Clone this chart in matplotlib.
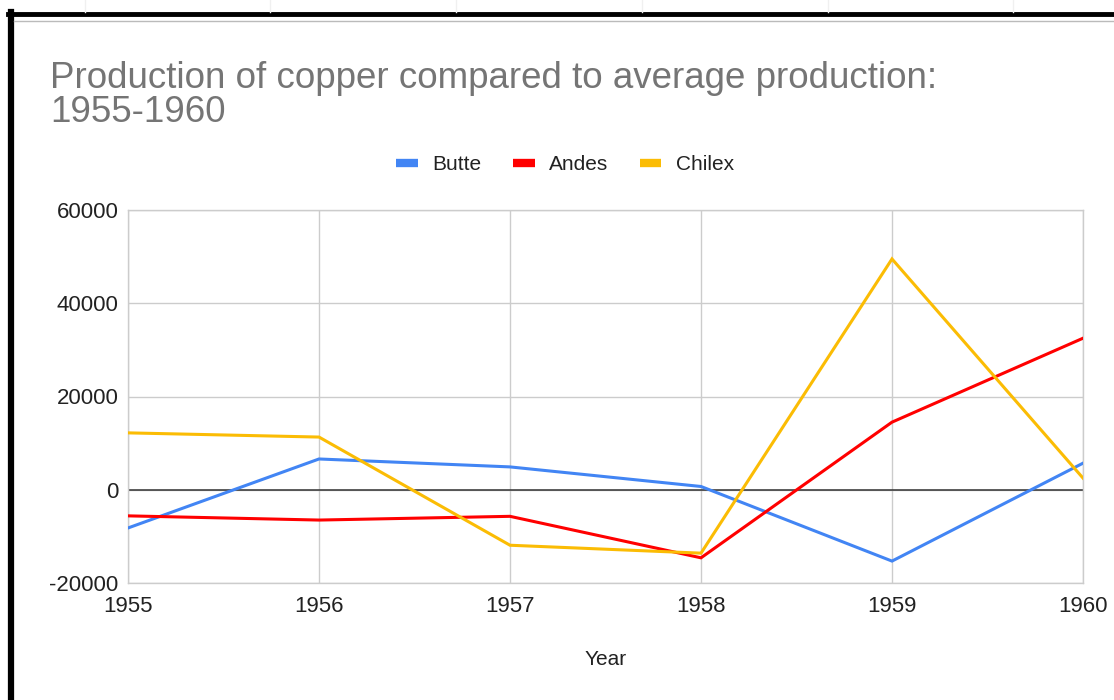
import matplotlib.pyplot as plt
from matplotlib.lines import Line2D

plt.rcParams['font.family'] = ['Liberation Sans', 'DejaVu Sans']

years = [1955, 1956, 1957, 1958, 1959, 1960]
butte = [-8200, 6600, 4900, 700, -15300, 5700]
andes = [-5600, -6500, -5700, -14600, 14500, 32500]
chilex = [12200, 11300, -11900, -13600, 49500, 2500]

series_names = ['Butte', 'Andes', 'Chilex']
series_colors = ['#4285f4', '#ff0000', '#fbbc04']
y_ticks = [-20000, 0, 20000, 40000, 60000]

fig = plt.figure(figsize=(11.14, 7), dpi=100)
ax = fig.add_axes([128 / 1114, 1 - 583 / 700, (1083 - 128) / 1114, (583 - 210) / 700])

for vals, name, col in zip([butte, andes, chilex], series_names, series_colors):
    ax.plot(years, vals, color=col, lw=2.2, label=name, solid_joinstyle='miter', zorder=3)

ax.axhline(0, color='#333333', lw=1.1, zorder=2)
ax.set_xlim(1955, 1960)
ax.set_ylim(-20000, 60000)
ax.set_xticks(years)
ax.set_xticklabels([str(y) for y in years])
ax.set_yticks(y_ticks)
ax.set_yticklabels([str(v) for v in y_ticks])
ax.grid(True, color='#cccccc', lw=1, zorder=1)
for s in ax.spines.values():
    s.set_color('#cccccc')
    s.set_linewidth(1)
ax.tick_params(length=0, labelsize=16, colors='#222222')
ax.tick_params(axis='x', pad=9)
ax.tick_params(axis='y', pad=7)
ax.set_xlabel('Year', fontsize=15, color='#222222', labelpad=24)

fig.text(50 / 1114, 1 - 61 / 700, 'Production of copper compared to average production:\n1955-1960',
         fontsize=26.5, color='#757575', va='top', ha='left', linespacing=0.98)

handles = [Line2D([], [], color=c, lw=6, solid_capstyle='butt') for c in series_colors]
fig.legend(handles, series_names, loc='center', bbox_to_anchor=(565 / 1114, 1 - 165 / 700),
           ncol=3, frameon=False, fontsize=15, handlelength=1.05, handletextpad=0.7,
           columnspacing=1.5, labelcolor='#222222')

# screenshot frame
fig.add_artist(Line2D([8 / 1114, 1], [1 - 14 / 700, 1 - 14 / 700], color='black', lw=3.5))
fig.add_artist(Line2D([11 / 1114, 11 / 1114], [0, 1 - 12 / 700], color='black', lw=4.5))
fig.add_artist(Line2D([14 / 1114, 1], [1 - 20.5 / 700, 1 - 20.5 / 700], color='#bbbbbb', lw=1))
for gx in [85, 270, 456, 642, 828, 1013]:
    fig.add_artist(Line2D([gx / 1114, gx / 1114], [1 - 12 / 700, 1], color='#f0f0f0', lw=1))

fig.savefig('out.png', dpi=100)
